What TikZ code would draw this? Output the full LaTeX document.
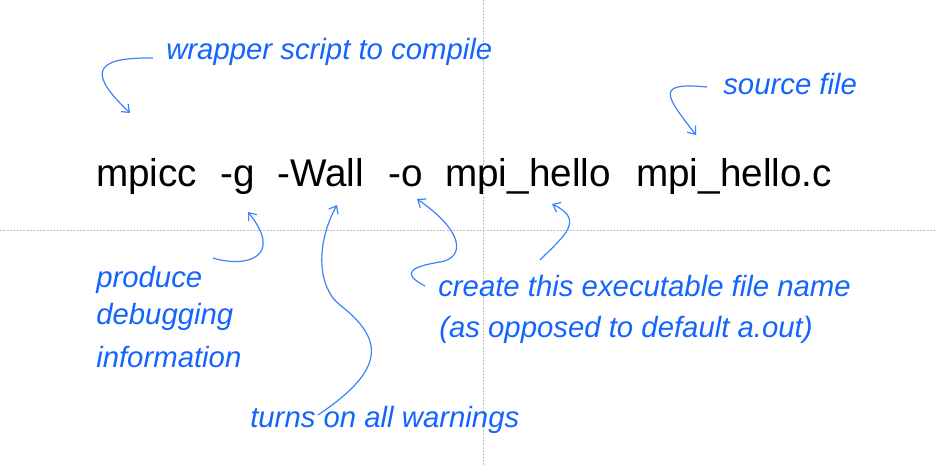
\documentclass[tikz,border=0pt]{standalone}
\usepackage{fontspec}
\setmainfont{Liberation Sans}
\usetikzlibrary{arrows.meta}
\definecolor{notecolor}{RGB}{20,100,255}
\definecolor{linecolor}{RGB}{60,130,255}
\tikzset{
  cmd/.style={anchor=base west,inner sep=0pt,font=\fontsize{29}{34}\selectfont},
  note/.style={anchor=base west,inner sep=0pt,text=notecolor,font=\fontsize{22}{26}\selectfont\itshape},
  pointer/.style={draw=linecolor,line width=0.9pt,-{Straight Barb[length=5pt,width=8pt]}},
  guide/.style={draw=black!25,dash pattern=on 1.5pt off 1pt,line width=0.6pt}
}
\begin{document}
\begin{tikzpicture}[x=0.75pt,y=-0.75pt]
      \useasboundingbox (0,0) rectangle (937,465);
      % slide guides
      \draw[guide] (483,0) -- (483,465);
      \draw[guide] (0,230) -- (937,230);
      % the command
      \node[cmd] (mpicc) at (96,186) {mpicc};
      \node[cmd] (optg) at (220,186) {-g};
      \node[cmd] (optwall) at (277,186) {-Wall};
      \node[cmd] (opto) at (388,186) {-o};
      \node[cmd] (outname) at (445,186) {mpi\_hello};
      \node[cmd] (srcfile) at (636,186) {mpi\_hello.c};
      % notes
      \node[note] (wrapnote) at (166,59) {wrapper script to compile};
      \node[note] (srcnote) at (723,94) {source file};
      \node[note] (debugA) at (96,287) {produce};
      \node[note] (debugB) at (96,324) {debugging};
      \node[note] (debugC) at (96,367) {information};
      \node[note] (outnoteA) at (438,296) {create this executable file name};
      \node[note] (outnoteB) at (439,337) {(as opposed to default a.out)};
      \node[note] (warnnote) at (250,427) {turns on all warnings};
      % arrow ends
      \coordinate (wrapS) at (153,58);
      \coordinate (wrapT) at (130,113);
      \coordinate (srcS) at (707,87);
      \coordinate (srcT) at (696,135);
      \coordinate (gS) at (213,258);
      \coordinate (gT) at (248,212);
      \coordinate (wallS) at (318,415);
      \coordinate (wallM) at (340,305);
      \coordinate (wallT) at (337,205);
      \coordinate (oS) at (425,286);
      \coordinate (oM) at (440,262);
      \coordinate (oT) at (417,199);
      \coordinate (nameS) at (540,260);
      \coordinate (nameT) at (552,204);
      \begin{scope}[pointer]
        \draw (wrapS) .. controls (90,57) and (90,75) .. (wrapT);
        \draw (srcS) .. controls (655,82) and (665,95) .. (srcT);
        \draw (gS) .. controls (245,268) and (285,258) .. (gT);
        \draw (wallS) .. controls (385,370) and (385,340) .. (wallM)
          .. controls (318,288) and (315,245) .. (wallT);
        \draw (oS) .. controls (398,272) and (415,266) .. (oM)
          .. controls (465,258) and (465,232) .. (oT);
        \draw (nameS) .. controls (565,235) and (585,220) .. (nameT);
      \end{scope}
    \end{tikzpicture}
\end{document}
